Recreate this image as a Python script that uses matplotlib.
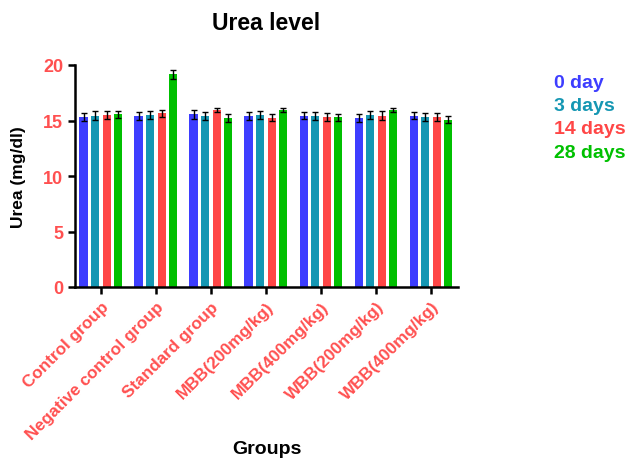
import matplotlib.pyplot as plt
import numpy as np

plt.rcParams['font.family'] = ['Liberation Sans', 'DejaVu Sans']

groups = ["Control group", "Negative control group", "Standard group",
          "MBB(200mg/kg)", "MBB(400mg/kg)", "WBB(200mg/kg)", "WBB(400mg/kg)"]
series = ["0 day", "3 days", "14 days", "28 days"]
colors = ["#3d3dff", "#1597b3", "#ff4646", "#00c000"]

day0 = [15.3, 15.38, 15.55, 15.4, 15.45, 15.23, 15.45]
day3 = [15.45, 15.5, 15.38, 15.5, 15.38, 15.5, 15.35]
day14 = [15.5, 15.65, 15.95, 15.27, 15.35, 15.45, 15.3]
day28 = [15.56, 19.15, 15.23, 15.95, 15.3, 15.95, 15.08]

err0 = [0.35, 0.35, 0.4, 0.35, 0.35, 0.35, 0.35]
err3 = [0.4, 0.35, 0.35, 0.35, 0.35, 0.4, 0.35]
err14 = [0.35, 0.3, 0.15, 0.35, 0.35, 0.4, 0.35]
err28 = [0.3, 0.4, 0.4, 0.15, 0.3, 0.2, 0.35]

values = [day0, day3, day14, day28]
errors = [err0, err3, err14, err28]

fig = plt.figure(figsize=(6.38, 4.6), dpi=100)
ax = fig.add_axes([75 / 638, 1 - 288 / 460, (458 - 75) / 638, (288 - 66) / 460])

x = np.arange(len(groups))
width = 0.15
offsets = [-0.315, -0.105, 0.105, 0.315]
for vals, errs, col, lab, off in zip(values, errors, colors, series, offsets):
    ax.bar(x + off, vals, width, color=col, label=lab,
           yerr=errs, capsize=2, error_kw=dict(ecolor='black', elinewidth=1, capthick=1))

ax.set_ylim(0, 20)
ax.set_xlim(-0.47, 6.49)
ax.set_yticks([0, 5, 10, 15, 20])
ax.set_xticks(x)
ax.set_xticklabels(groups, rotation=45, ha='right', rotation_mode='anchor')
for lbl in ax.get_xticklabels():
    lbl.set_color('#ff5050')
    lbl.set_fontweight('bold')
    lbl.set_fontsize(12.3)
for lbl in ax.get_yticklabels():
    lbl.set_color('#ff5050')
    lbl.set_fontweight('bold')
    lbl.set_fontsize(13)

ax.spines['top'].set_visible(False)
ax.spines['right'].set_visible(False)
ax.spines['left'].set_linewidth(1.8)
ax.spines['bottom'].set_linewidth(1.8)
ax.tick_params(axis='both', width=1.8, length=5, direction='out')

fig.text((75 + 458) / 2 / 638, 1 - 24 / 460, "Urea level", ha='center', va='center',
         fontsize=16.5, fontweight='bold')
ax.set_ylabel("Urea (mg/dl)", fontsize=12.5, fontweight='bold')
ax.yaxis.set_label_coords((26 - 75) / 383, 0.5)
fig.text((75 + 458) / 2 / 638, 1 - 450 / 460, "Groups", ha='center', va='center',
         fontsize=14, fontweight='bold')

leg = fig.legend(loc='upper left', bbox_to_anchor=(554 / 638, 1 - 74 / 460), frameon=False,
                 handlelength=0, handletextpad=0, labelspacing=0.3,
                 borderpad=0, borderaxespad=0,
                 labelcolor=colors, prop={'weight': 'bold', 'size': 14})
for h in leg.legend_handles:
    h.set_visible(False)

plt.savefig("out.png", dpi=100)
